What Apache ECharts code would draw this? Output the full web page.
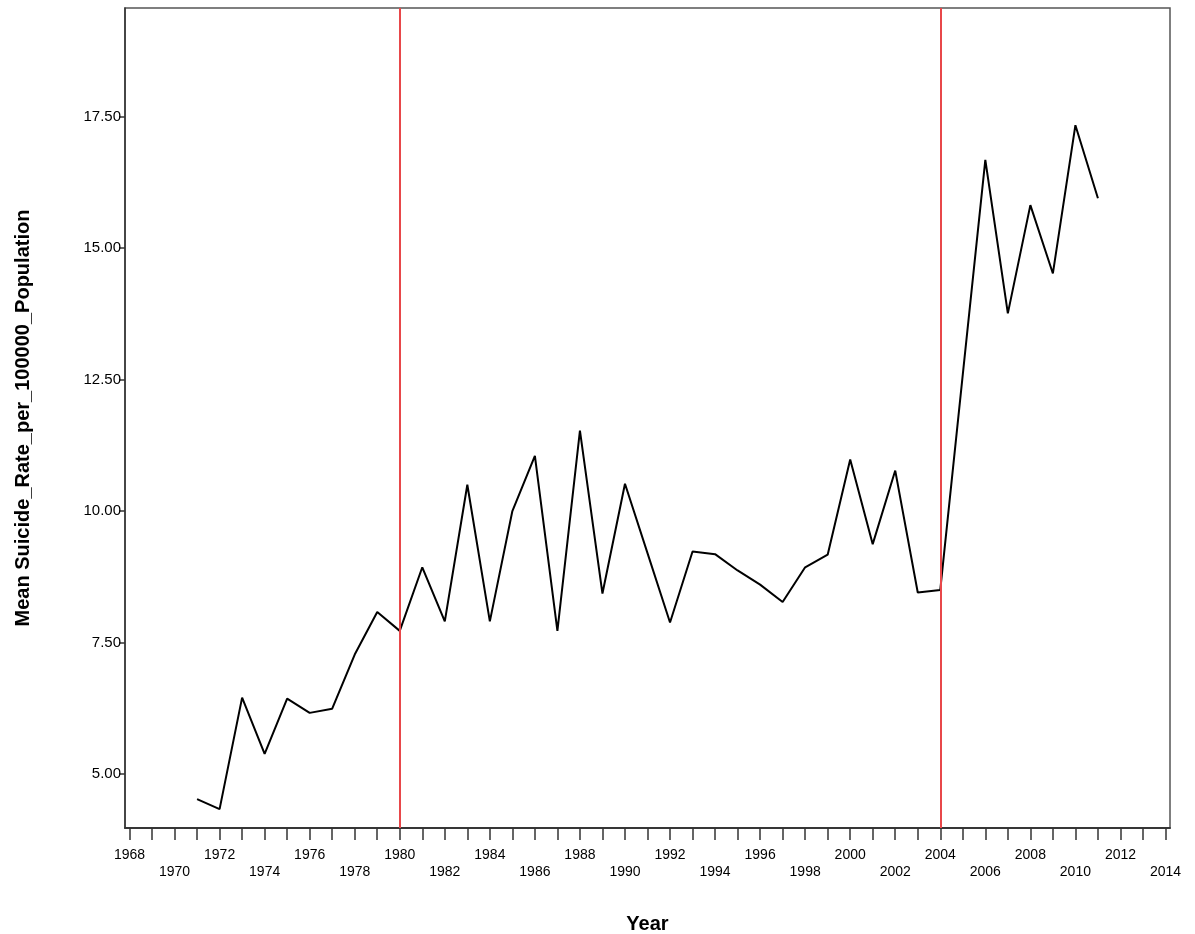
<!DOCTYPE html>
<html>
<head>
  <meta charset="utf-8">
  <script src="https://cdn.jsdelivr.net/npm/echarts@6/dist/echarts.min.js"></script>
  <style>body{margin:0;background:#fff}#main{width:1195px;height:934px}</style>
</head>
<body>
<div id="main"></div>
<script>
var years = [];
for (var y = 1971; y <= 2011; y++) years.push(y);
var rates = [4.52, 4.33, 6.45, 5.38, 6.43, 6.16, 6.24, 7.27, 8.08, 7.72,
             8.93, 7.90, 10.50, 7.90, 10.00, 11.05, 7.72, 11.53, 8.43, 10.52,
             9.20, 7.88, 9.23, 9.18, 8.87, 8.60, 8.27, 8.93, 9.17, 10.98,
             9.37, 10.77, 8.45, 8.50, 12.60, 16.68, 13.76, 15.82, 14.52, 17.34,
             15.95];
var breakYears = [1980, 2004];
var yTicks = [5, 7.5, 10, 12.5, 15, 17.5];
var allYears = [], rowOne = [], rowTwo = [];
for (var t = 1968; t <= 2014; t++) {
  allYears.push(t);
  if ((t - 1968) % 4 === 0) rowOne.push(t); else if ((t - 1970) % 4 === 0) rowTwo.push(t);
}

var font = 'Liberation Sans';
var chart = echarts.init(document.getElementById('main'));
var yearLabel = function (v) { return String(Math.round(v)); };
var xBase = {
  type: 'value', min: 1967.8, max: 2014.2, gridIndex: 0, position: 'bottom',
  splitLine: {show: false},
  axisLine: {lineStyle: {color: '#333', width: 1.5}}
};
chart.setOption({
  animation: false,
  textStyle: {fontFamily: font},
  grid: {left: 125, top: 8, width: 1045, height: 820, outerBoundsMode: 'none', containLabel: false,
    show: true, borderColor: '#555', borderWidth: 1.5},
  xAxis: [
    Object.assign({}, xBase, {
      name: 'Year', nameLocation: 'middle', nameGap: 86,
      nameTextStyle: {fontSize: 20, fontWeight: 'bold', color: '#000', fontFamily: font},
      axisTick: {customValues: allYears, length: 12, lineStyle: {color: '#333', width: 1.5}},
      axisLabel: {customValues: rowOne, margin: 20, fontSize: 14, color: '#000', formatter: yearLabel}
    }),
    Object.assign({}, xBase, {
      axisTick: {show: false},
      axisLabel: {customValues: rowTwo, margin: 37, fontSize: 14, color: '#000', formatter: yearLabel}
    })
  ],
  yAxis: {
    type: 'value', min: 3.97, max: 19.57,
    name: 'Mean Suicide_Rate_per_100000_Population', nameLocation: 'middle', nameGap: 92,
    nameTextStyle: {fontSize: 20, fontWeight: 'bold', color: '#000', fontFamily: font},
    splitLine: {show: false},
    axisLine: {show: true, lineStyle: {color: '#333', width: 1.5}},
    axisTick: {customValues: yTicks, length: 6, lineStyle: {color: '#333', width: 1.5}},
    axisLabel: {customValues: yTicks, fontSize: 15, color: '#000', margin: 4,
      formatter: function (v) { return v.toFixed(2); }}
  },
  series: [{
    type: 'line', symbol: 'none',
    data: years.map(function (y, i) { return [y, rates[i]]; }),
    lineStyle: {color: '#000', width: 2},
    markLine: {
      silent: true, symbol: 'none', label: {show: false},
      lineStyle: {color: '#e8474a', width: 2, type: 'solid'},
      data: breakYears.map(function (b) { return {xAxis: b}; })
    }
  }]
});
</script>
</body>
</html>
